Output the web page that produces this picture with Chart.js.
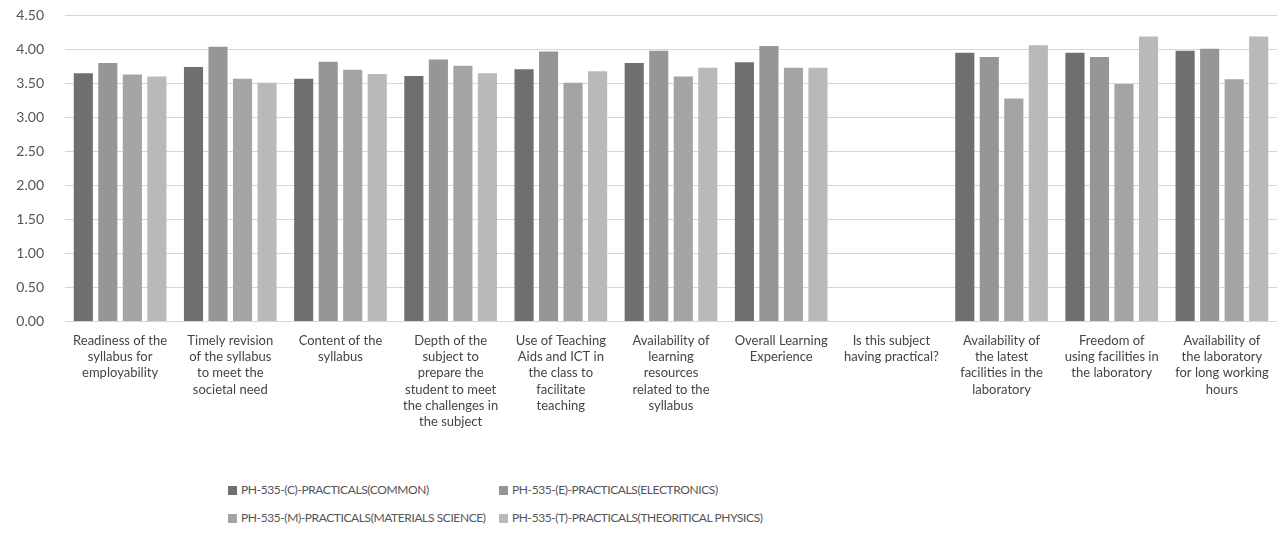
<!DOCTYPE html>
<html>
<head>
<meta charset="utf-8">
<script src="https://cdn.jsdelivr.net/npm/chart.js@4"></script>
<style>
  body { margin: 0; background: #fff; overflow: hidden; }
  #wrap { position: relative; width: 1283px; height: 533px; }
  #box { position: absolute; left: 0; top: -14px; width: 1283px; height: 450px; }
  #legend {
    position: absolute; left: 228px; top: 482px;
    display: grid; grid-template-columns: 271px auto; row-gap: 13px;
    font-family: Lato, "Open Sans", sans-serif; font-size: 12px; letter-spacing: -0.4px;
    color: #555; white-space: nowrap;
  }
  #legend span.sw { display: inline-block; width: 9px; height: 9px; margin-right: 4px; vertical-align: -1px; }
</style>
</head>
<body>
<div id="wrap">
  <div id="box"><canvas id="chart"></canvas></div>
  <div id="legend"></div>
</div>
<script>
let categories = [
    ['Readiness of the', 'syllabus for', 'employability'],
    ['Timely revision', 'of the syllabus', 'to meet the', 'societal need'],
    ['Content of the', 'syllabus'],
    ['Depth of the', 'subject to', 'prepare the', 'student to meet', 'the challenges in', 'the subject'],
    ['Use of Teaching', 'Aids and ICT in', 'the class to', 'facilitate', 'teaching'],
    ['Availability of', 'learning', 'resources', 'related to the', 'syllabus'],
    ['Overall Learning', 'Experience'],
    ['Is this subject', 'having practical?'],
    ['Availability of', 'the latest', 'facilities in the', 'laboratory'],
    ['Freedom of', 'using facilities in', 'the laboratory'],
    ['Availability of', 'the laboratory', 'for long working', 'hours']
];

let seriesNames = [
    'PH-535-(C)-PRACTICALS(COMMON)',
    'PH-535-(E)-PRACTICALS(ELECTRONICS)',
    'PH-535-(M)-PRACTICALS(MATERIALS SCIENCE)',
    'PH-535-(T)-PRACTICALS(THEORITICAL PHYSICS)'
];

let common      = [3.65, 3.74, 3.57, 3.61, 3.71, 3.80, 3.81, 0, 3.95, 3.95, 3.98];
let electronics = [3.80, 4.04, 3.82, 3.85, 3.97, 3.98, 4.05, 0, 3.89, 3.89, 4.01];
let materials   = [3.63, 3.57, 3.70, 3.76, 3.51, 3.60, 3.73, 0, 3.28, 3.49, 3.56];
let theory      = [3.60, 3.51, 3.64, 3.65, 3.68, 3.73, 3.73, 0, 4.06, 4.19, 4.19];

let yTicks = [0, 0.5, 1, 1.5, 2, 2.5, 3, 3.5, 4, 4.5];

let colors = ['#6f6f6f', '#969696', '#a4a4a4', '#b9b9b9'];
let allSeries = [common, electronics, materials, theory];

let datasets = allSeries.map(function (vals, i) {
    return {
        label: seriesNames[i],
        data: vals,
        backgroundColor: colors[i],
        borderWidth: 0,
        categoryPercentage: 0.89,
        barPercentage: 0.78
    };
});

let ctx = document.getElementById('chart').getContext('2d');
new Chart(ctx, {
    type: 'bar',
    data: { labels: categories, datasets: datasets },
    options: {
        responsive: true,
        maintainAspectRatio: false,
        animation: false,
        layout: { padding: { top: 0, left: 0, right: 6, bottom: 3 } },
        plugins: { legend: { display: false }, tooltip: { enabled: false } },
        scales: {
            x: {
                grid: { display: false },
                border: { display: false },
                ticks: {
                    autoSkip: false, maxRotation: 0, minRotation: 0, padding: 3,
                    color: '#444',
                    font: { family: 'Lato, "Open Sans", sans-serif', size: 13, lineHeight: 1.25 }
                }
            },
            y: {
                min: 0,
                max: 4.5,
                afterBuildTicks: function (axis) {
                    axis.ticks = yTicks.map(function (v) { return { value: v }; });
                },
                afterFit: function (axis) { axis.width = 65; },
                grid: { color: '#d6d6d6', drawTicks: false },
                border: { display: false },
                ticks: {
                    padding: 21,
                    color: '#555',
                    font: { family: 'Lato, "Open Sans", sans-serif', size: 14 },
                    callback: function (v) { return Number(v).toFixed(2); }
                }
            }
        }
    }
});

let legend = document.getElementById('legend');
seriesNames.forEach(function (name, i) {
    let item = document.createElement('div');
    item.innerHTML = '<span class="sw" style="background:' + colors[i] + '"></span>' + name;
    legend.appendChild(item);
});
</script>
</body>
</html>
